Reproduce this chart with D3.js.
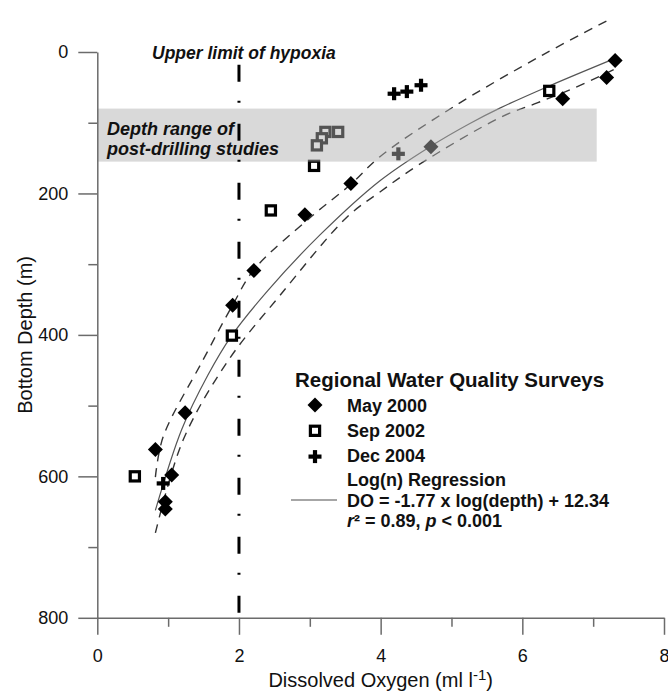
<!DOCTYPE html>
<html>
<head>
<meta charset="utf-8">
<script src="https://cdn.jsdelivr.net/npm/d3@7"></script>
<style>
  html, body { margin: 0; padding: 0; background: #fff; }
  svg { display: block; font-family: "Liberation Sans", Arial, Helvetica, sans-serif; }
</style>
</head>
<body>
<svg id="chart" width="668" height="692"></svg>
<script>
// ---- Data ----
const mayDO    = [7.31, 7.19, 6.57, 4.71, 3.58, 2.93, 2.21, 1.91, 1.24, 0.82, 1.05, 0.96, 0.96];
const mayDepth = [12, 36, 66, 134, 186, 230, 309, 358, 510, 562, 598, 636, 646];
const sepDO    = [6.38, 3.40, 3.22, 3.17, 3.10, 3.06, 2.45, 1.90, 0.53];
const sepDepth = [55, 113, 113, 122, 132, 161, 224, 401, 600];
const decDO    = [4.19, 4.37, 4.57, 4.25, 0.93];
const decDepth = [59, 56, 47, 144, 610];

// regression curve and confidence band curves
const fitDO     = [0.82, 1.19, 1.56, 1.89, 2.41, 3.14, 3.99, 4.71, 5.26, 5.69, 6.38, 7.31];
const fitDepth  = [648, 534, 457, 402, 337, 259, 182, 133, 101, 79, 48, 9];
const ciUpDO    = [0.82, 0.93, 1.49, 1.91, 2.21, 3.03, 3.58, 3.99, 5.02, 6.29, 7.27];
const ciUpDepth = [601, 544, 436, 358, 308, 232, 187, 148, 78, 4, -48];
const ciLoDO    = [0.82, 1.21, 1.85, 2.58, 3.53, 3.99, 4.53, 5.70, 6.21, 6.73, 7.29];
const ciLoDepth = [680, 549, 436, 344, 233, 198, 160, 92, 72, 51, 25];

const hypoxiaDO = 2;
const hypoxiaTopDepth = 18;
const bandDepth = [80, 155];
const bandDO = [0, 7.05];

const xTicks = [0, 2, 4, 6, 8];
const xMinorTicks = [1, 3, 5, 7];
const yTicks = [0, 200, 400, 600, 800];
const yMinorTicks = [100, 300, 500, 700];

const legendTitle = "Regional Water Quality Surveys";
const seriesNames = ["May 2000", "Sep 2002", "Dec 2004"];
const regLines = ["Log(n) Regression", "DO = -1.77 x log(depth) + 12.34"];

// ---- Drawing ----
const svg = d3.select("#chart");
const x = d3.scaleLinear().domain([0, 8]).range([97.3, 664]);
const y = d3.scaleLinear().domain([0, 800]).range([52, 617.8]);
const axisColor = "#6b6b6b";
const textColor = "#111";

// regression curves (under band overlay)
const zip = (a, b) => a.map((v, i) => [v, b[i]]);
const line = d3.line().x(d => x(d[0])).y(d => y(d[1])).curve(d3.curveCatmullRom.alpha(0.5));

svg.append("path").attr("d", line(zip(ciUpDO, ciUpDepth)))
  .attr("fill", "none").attr("stroke", "#333").attr("stroke-width", 1.4).attr("stroke-dasharray", "9,7");
svg.append("path").attr("d", line(zip(ciLoDO, ciLoDepth)))
  .attr("fill", "none").attr("stroke", "#333").attr("stroke-width", 1.4).attr("stroke-dasharray", "9,7");
svg.append("path").attr("d", line(zip(fitDO, fitDepth)))
  .attr("fill", "none").attr("stroke", "#555").attr("stroke-width", 1.2);

// markers
function diamond(g) {
  g.append("path").attr("d", "M0,-7.5L7.5,0L0,7.5L-7.5,0Z").attr("fill", "#000");
}
function square(g) {
  g.append("rect").attr("x", -4.6).attr("y", -4.6).attr("width", 9.2).attr("height", 9.2)
    .attr("fill", "#fff").attr("stroke", "#000").attr("stroke-width", 3.2);
}
function plus(g) {
  g.append("rect").attr("x", -6.5).attr("y", -2.1).attr("width", 13).attr("height", 4.2).attr("fill", "#000");
  g.append("rect").attr("x", -2.1).attr("y", -6.5).attr("width", 4.2).attr("height", 13).attr("fill", "#000");
}

const pts = svg.append("g");
zip(decDO, decDepth).forEach(d => plus(pts.append("g").attr("transform", `translate(${x(d[0])},${y(d[1])})`)));
zip(mayDO, mayDepth).forEach(d => diamond(pts.append("g").attr("transform", `translate(${x(d[0])},${y(d[1])})`)));
zip(sepDO, sepDepth).forEach(d => square(pts.append("g").attr("transform", `translate(${x(d[0])},${y(d[1])})`)));

// translucent band overlay
svg.append("rect")
  .attr("x", x(bandDO[0])).attr("y", y(bandDepth[0]))
  .attr("width", x(bandDO[1]) - x(bandDO[0])).attr("height", y(bandDepth[1]) - y(bandDepth[0]))
  .attr("fill", "rgb(176,176,176)").attr("fill-opacity", 0.48);

// hypoxia line
svg.append("line")
  .attr("x1", x(hypoxiaDO)).attr("x2", x(hypoxiaDO))
  .attr("y1", y(hypoxiaTopDepth)).attr("y2", y(800))
  .attr("stroke", "#000").attr("stroke-width", 3)
  .attr("stroke-dasharray", "17,19,2,21");

// axes
const xAxis = svg.append("g").attr("transform", `translate(0,${y(800)})`)
  .call(d3.axisBottom(x).tickValues(xTicks).tickSize(17).tickSizeOuter(0).tickPadding(14).tickFormat(d3.format("d")));
const xMinor = svg.append("g").attr("transform", `translate(0,${y(800)})`)
  .call(d3.axisBottom(x).tickValues(xMinorTicks).tickSize(9).tickSizeOuter(0).tickFormat(""));
xMinor.select(".domain").remove();
const yAxis = svg.append("g").attr("transform", `translate(${x(0)},0)`)
  .call(d3.axisLeft(y).tickValues(yTicks).tickSize(19).tickSizeOuter(0).tickPadding(10).tickFormat(d3.format("d")));
const yMinor = svg.append("g").attr("transform", `translate(${x(0)},0)`)
  .call(d3.axisLeft(y).tickValues(yMinorTicks).tickSize(9).tickSizeOuter(0).tickFormat(""));
yMinor.select(".domain").remove();

[xAxis, xMinor, yAxis, yMinor].forEach(a => {
  a.selectAll("path,line").attr("stroke", axisColor).attr("stroke-width", 1.5);
  a.selectAll("text").attr("font-size", 18).attr("fill", textColor)
    .attr("font-family", '"Liberation Sans", Arial, sans-serif');
});

// axis titles
const xt = svg.append("text").attr("x", (x(0) + x(8)) / 2).attr("y", 687)
  .attr("text-anchor", "middle").attr("font-size", 20).attr("fill", textColor);
xt.append("tspan").text("Dissolved Oxygen (ml l");
xt.append("tspan").attr("dy", -7).attr("font-size", 15).text("-1");
xt.append("tspan").attr("dy", 7).text(")");

svg.append("text").attr("transform", `translate(32,${(y(0) + y(800)) / 2}) rotate(-90)`)
  .attr("text-anchor", "middle").attr("font-size", 20).attr("fill", textColor)
  .text("Bottom Depth (m)");

// annotations
svg.append("text").attr("x", 152).attr("y", 59)
  .attr("font-size", 17.5).attr("font-weight", "bold").attr("font-style", "italic").attr("fill", textColor)
  .text("Upper limit of hypoxia");
svg.append("text").attr("x", 107).attr("y", 135)
  .attr("font-size", 18).attr("font-weight", "bold").attr("font-style", "italic").attr("fill", textColor)
  .text("Depth range of");
svg.append("text").attr("x", 107).attr("y", 155)
  .attr("font-size", 18).attr("font-weight", "bold").attr("font-style", "italic").attr("fill", textColor)
  .text("post-drilling studies");

// legend
const lg = svg.append("g").attr("font-weight", "bold").attr("fill", textColor);
lg.append("text").attr("x", 295).attr("y", 387).attr("font-size", 20.5).text(legendTitle);
const markerFns = [diamond, square, plus];
seriesNames.forEach((name, i) => {
  markerFns[i](lg.append("g").attr("transform", `translate(315,${405 + i * 25.8})`));
  lg.append("text").attr("x", 347).attr("y", 412 + i * 25).attr("font-size", 18).text(name);
});
lg.append("text").attr("x", 347).attr("y", 486).attr("font-size", 18).text(regLines[0]);
lg.append("text").attr("x", 347).attr("y", 507).attr("font-size", 18).text(regLines[1]);
const r2 = lg.append("text").attr("x", 347).attr("y", 527).attr("font-size", 18);
r2.append("tspan").attr("font-style", "italic").text("r");
r2.append("tspan").text("\u00B2 = 0.89, ");
r2.append("tspan").attr("font-style", "italic").text("p");
r2.append("tspan").text(" < 0.001");
lg.append("line").attr("x1", 291).attr("x2", 337).attr("y1", 500).attr("y2", 500)
  .attr("stroke", "#888").attr("stroke-width", 1.5);
</script>
</body>
</html>
